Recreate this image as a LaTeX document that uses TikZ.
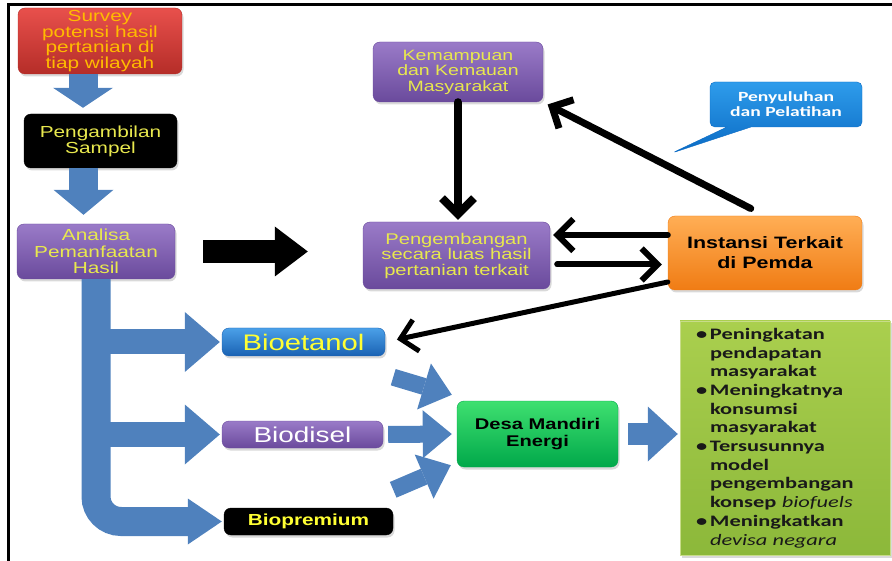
\documentclass[tikz,border=0pt]{standalone}
\usepackage{fontspec}
\usetikzlibrary{arrows.meta,shapes.callouts,shadows,calc}
\newfontfamily\boxfont[FakeStretch=1.3]{Liberation Sans}
\newfontfamily\listfont[FakeStretch=1.4]{Carlito}
\definecolor{redtop}{HTML}{E8504C}
\definecolor{redbot}{HTML}{B52D28}
\definecolor{purpletop}{HTML}{9A7BC8}
\definecolor{purplebot}{HTML}{6A4A9C}
\definecolor{bluetop}{HTML}{4BA0E8}
\definecolor{bluebot}{HTML}{1A62B3}
\definecolor{orangetop}{HTML}{FFAE55}
\definecolor{orangebot}{HTML}{F07C14}
\definecolor{greentop}{HTML}{3FE070}
\definecolor{greenbot}{HTML}{00A84A}
\definecolor{listtop}{HTML}{AACF4E}
\definecolor{listbot}{HTML}{8CB83A}
\definecolor{listborder}{HTML}{C8DC8A}
\definecolor{callouttop}{HTML}{2E9CEB}
\definecolor{calloutbot}{HTML}{0B6BC4}
\definecolor{surveyorange}{HTML}{FFBB00}
\definecolor{boxyellow}{HTML}{E8E84E}
\definecolor{bioyellow}{HTML}{FFFF33}
\definecolor{arrowblue}{HTML}{4F81BD}
\begin{document}
\begin{tikzpicture}[x=1pt, y=-1pt,
    box/.style={rounded corners=7pt, inner sep=2pt, align=center,
      drop shadow={shadow xshift=1.5pt, shadow yshift=-2.5pt, opacity=0.3}},
    redbox/.style={box, top color=redtop, bottom color=redbot, draw=redbot, text=surveyorange},
    purplebox/.style={box, top color=purpletop, bottom color=purplebot, draw=purplebot, text=boxyellow},
    blackbox/.style={box, fill=black, draw=black, text=boxyellow},
    bluebox/.style={box, top color=bluetop, bottom color=bluebot, draw=bluebot},
    orangebox/.style={box, top color=orangetop, bottom color=orangebot, draw=orangebot},
    greenbox/.style={box, top color=greentop, bottom color=greenbot, draw=greenbot},
    fatarrow/.style args={#1/#2/#3}{arrowblue, line width=#1,
      -{Triangle[length=#2, width=#3, line width=0pt]}},
    blackarrow/.style={line width=#1, line cap=round,
      -{Straight Barb[length=16pt, width=32pt]}}
  ]
  \useasboundingbox (0,0) rectangle (892,561);
  % frame
  \draw[line width=3pt] (8,561) -- (8,5) -- (892,5);

  % left column
  \node[redbox, minimum width=164pt, minimum height=66pt,
    font=\boxfont\fontsize{16}{15.5}\selectfont] (survey) at (100,41)
    {Survey\\potensi hasil\\pertanian di\\tiap wilayah};
  \node[blackbox, minimum width=153pt, minimum height=54pt,
    font=\boxfont\fontsize{16}{16}\selectfont] (sampel) at (100.5,141)
    {Pengambilan\\Sampel};
  \node[purplebox, minimum width=158pt, minimum height=55pt,
    font=\boxfont\fontsize{16}{16.5}\selectfont] (analisa) at (96,251.5)
    {Analisa\\Pemanfaatan\\Hasil};

  % top right
  \node[purplebox, minimum width=170pt, minimum height=60pt,
    font=\boxfont\fontsize{15}{15.5}\selectfont] (kemampuan) at (458,72)
    {Kemampuan\\dan Kemauan\\Masyarakat};
  \node[purplebox, minimum width=187pt, minimum height=67pt,
    font=\boxfont\fontsize{15.5}{15.5}\selectfont] (pengembangan) at (456.5,255.5)
    {Pengembangan\\secara luas hasil\\pertanian terkait};
  \node[orangebox, minimum width=194pt, minimum height=74pt,
    font=\boxfont\bfseries\fontsize{16.5}{20}\selectfont] (instansi) at (765,253)
    {Instansi Terkait\\di Pemda};
  \node[rectangle callout, rounded corners=5pt, top color=callouttop,
    bottom color=calloutbot, draw=calloutbot, text=white, align=center,
    minimum width=152pt, minimum height=45pt,
    callout absolute pointer={(672,153)}, callout pointer width=24pt,
    font=\listfont\bfseries\fontsize{14}{15}\selectfont] (penyuluhan) at (786,104.5)
    {Penyuluhan\\dan Pelatihan};

  % products
  \node[bluebox, minimum width=163pt, minimum height=28pt, text=bioyellow,
    font=\boxfont\fontsize{22.5}{22.5}\selectfont] (bioetanol) at (303.5,342) {Bioetanol};
  \node[purplebox, minimum width=161pt, minimum height=27pt, text=white,
    font=\boxfont\fontsize{21.5}{21.5}\selectfont] (biodisel) at (302.5,434.5) {Biodisel};
  \node[blackbox, minimum width=169pt, minimum height=27pt, text=bioyellow,
    font=\boxfont\bfseries\fontsize{16}{16}\selectfont] (biopremium) at (308.5,521.5) {Biopremium};

  % result
  \node[greenbox, minimum width=161pt, minimum height=66pt, text=black,
    font=\boxfont\bfseries\fontsize{15.5}{16.5}\selectfont] (desa) at (537.5,434)
    {Desa Mandiri\\Energi};
  \node[draw=listborder, top color=listtop, bottom color=listbot,
    minimum width=210pt, minimum height=234pt, inner sep=0pt,
    text width=178pt, align=left, text=black!90,
    drop shadow={shadow xshift=1.5pt, shadow yshift=-2.5pt, opacity=0.3},
    font=\listfont\bfseries\fontsize{16}{18.7}\selectfont] (hasil) at (785,438)
    {\makebox[14pt][l]{\textbullet}Peningkatan\\
     \hspace*{14pt}pendapatan\\
     \hspace*{14pt}masyarakat\\
     \makebox[14pt][l]{\textbullet}Meningkatnya\\
     \hspace*{14pt}konsumsi\\
     \hspace*{14pt}masyarakat\\
     \makebox[14pt][l]{\textbullet}Tersusunnya\\
     \hspace*{14pt}model\\
     \hspace*{14pt}pengembangan\\
     \hspace*{14pt}konsep {\mdseries\itshape biofuels}\\
     \makebox[14pt][l]{\textbullet}Meningkatkan\\
     \hspace*{14pt}{\mdseries\itshape devisa negara}};

  % blue flow arrows
  \draw[fatarrow=29pt/20pt/60pt, shorten >=6pt]
    ([xshift=-17pt]survey.south) -- ([xshift=-17pt]survey.south |- sampel.north);
  \draw[fatarrow=29pt/25pt/60pt, shorten >=9pt]
    ([xshift=-17pt]sampel.south) -- ([xshift=-17pt]sampel.south |- analisa.north);
  \foreach \target in {bioetanol, biodisel}
    \draw[fatarrow=25pt/35pt/60pt, shorten >=2pt]
      (analisa.south |- \target.west) -- (\target.west);
  \draw[fatarrow=29pt/34pt/46pt, rounded corners=25pt, shorten >=2pt]
    (analisa.south) |- (biopremium.west);
  \draw[fatarrow=17pt/29pt/48pt]
    ($(bioetanol.south east)+(8,21)$) -- ($(desa.north west)+(-5,-6)$);
  \draw[fatarrow=17pt/29pt/48pt, shorten <=5pt, shorten >=5pt]
    (biodisel.east) -- (desa.west);
  \draw[fatarrow=17pt/29pt/48pt]
    ($(biopremium.north east)+(0,-18)$) -- ($(desa.south west)+(-6,-2)$);
  \draw[fatarrow=22pt/30pt/55pt, shorten <=10pt, shorten >=2pt]
    (desa.east) -- (desa.east -| hasil.west);
  \draw[black, line width=23pt, shorten <=28pt, shorten >=55pt,
    -{Triangle[length=33pt, width=50pt, line width=0pt]}]
    (analisa.east) -- (analisa.east -| pengembangan.west);

  % black arrows
  \draw[blackarrow=8pt, shorten >=2pt]
    (kemampuan.south) -- (kemampuan.south |- pengembangan.north);
  \draw[blackarrow=7pt, shorten <=16pt, shorten >=5pt]
    (instansi.north) -- (kemampuan.south east);
  \draw[blackarrow=6pt, shorten >=3pt]
    ([yshift=18pt]instansi.west) -- ([yshift=18pt]instansi.west -| pengembangan.east);
  \draw[blackarrow=6pt, shorten <=7pt, shorten >=6pt]
    ([yshift=-9pt]pengembangan.east) -- ([yshift=-9pt]pengembangan.east -| instansi.west);
  \draw[blackarrow=5pt, shorten >=12pt]
    ([yshift=-29pt]instansi.west) -- (bioetanol.east);
\end{tikzpicture}
\end{document}
